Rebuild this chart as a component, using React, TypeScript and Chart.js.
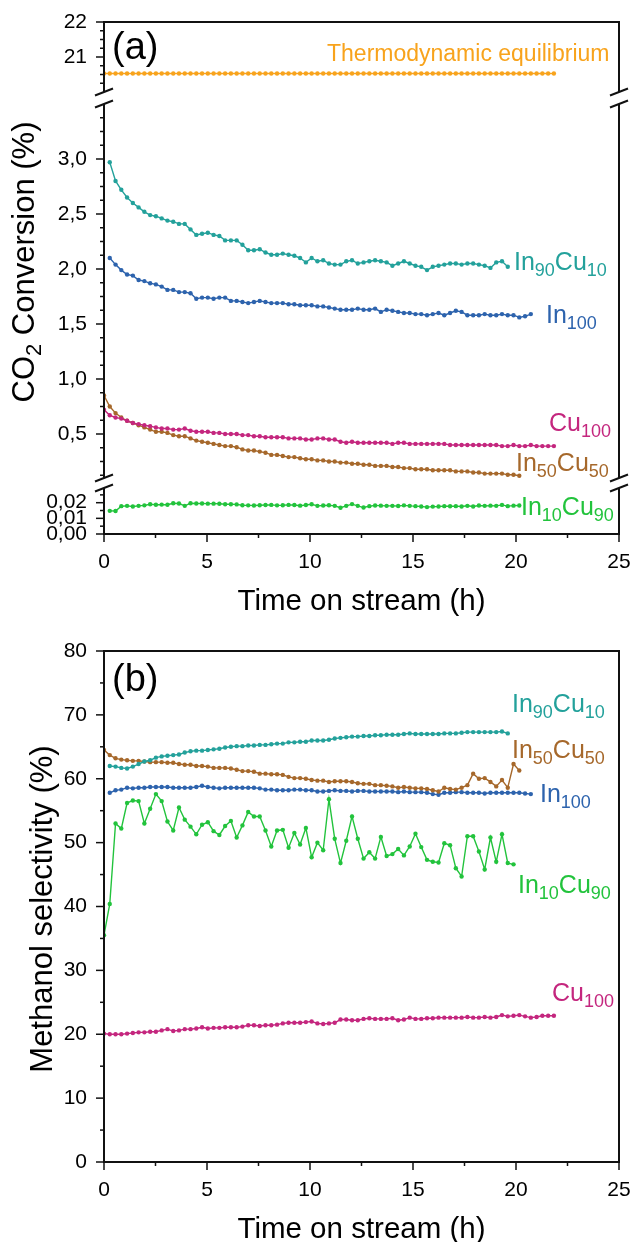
import { useEffect, useRef } from "react";
import { Chart, registerables } from "chart.js";

Chart.register(...registerables);

const FONT = "'Liberation Sans', Arial, sans-serif";
Chart.defaults.font.family = FONT;
Chart.defaults.color = "#000";

const TEAL = "#23a19b";
const BLUE = "#2d63ad";
const MAGENTA = "#c4267e";
const BROWN = "#a6682b";
const GREEN = "#22c33c";
const ORANGE = "#f8a31c";
const INK = "#111";

// time on stream (h), sampling grid shared by all runs
const hours = [
  0, 0.28, 0.56, 0.84, 1.12, 1.4, 1.68, 1.96, 2.24, 2.52,
  2.8, 3.08, 3.36, 3.64, 3.92, 4.2, 4.48, 4.76, 5.04, 5.32,
  5.6, 5.88, 6.16, 6.44, 6.72, 7, 7.28, 7.56, 7.84, 8.12,
  8.4, 8.68, 8.96, 9.24, 9.52, 9.8, 10.08, 10.36, 10.64, 10.92,
  11.2, 11.48, 11.76, 12.04, 12.32, 12.6, 12.88, 13.16, 13.44, 13.72,
  14, 14.28, 14.56, 14.84, 15.12, 15.4, 15.68, 15.96, 16.24, 16.52,
  16.8, 17.08, 17.36, 17.64, 17.92, 18.2, 18.48, 18.76, 19.04, 19.32,
  19.6, 19.88, 20.16, 20.44, 20.72, 21, 21.28, 21.56, 21.84,
];

// (a) CO2 conversion (%)
const convIn90Cu10 = [
  null, 2.97, 2.8, 2.72, 2.65, 2.6, 2.56, 2.52, 2.49, 2.48, 2.46,
  2.44, 2.43, 2.41, 2.41, 2.36, 2.31, 2.32, 2.33, 2.31, 2.3,
  2.26, 2.26, 2.26, 2.22, 2.17, 2.17, 2.18, 2.15, 2.13, 2.13,
  2.14, 2.13, 2.12, 2.1, 2.06, 2.1, 2.07, 2.08, 2.05, 2.04,
  2.04, 2.07, 2.08, 2.05, 2.06, 2.07, 2.08, 2.07, 2.06, 2.03,
  2.05, 2.07, 2.05, 2.03, 2.02, 1.99, 2.02, 2.03, 2.04, 2.05,
  2.05, 2.04, 2.05, 2.05, 2.04, 2.03, 2.01, 2.06, 2.07, 2.02,
];
const convIn100 = [
  null, 2.1, 2.04, 1.99, 1.95, 1.94, 1.9, 1.89, 1.87, 1.86, 1.84,
  1.81, 1.81, 1.79, 1.79, 1.78, 1.73, 1.74, 1.74, 1.73, 1.74,
  1.74, 1.71, 1.71, 1.7, 1.69, 1.7, 1.71, 1.7, 1.69, 1.69,
  1.69, 1.68, 1.68, 1.67, 1.67, 1.67, 1.66, 1.66, 1.65, 1.64,
  1.63, 1.63, 1.63, 1.64, 1.63, 1.63, 1.64, 1.61, 1.63, 1.62,
  1.61, 1.6, 1.6, 1.59, 1.59, 1.58, 1.59, 1.6, 1.58, 1.6,
  1.62, 1.61, 1.58, 1.58, 1.58, 1.59, 1.58, 1.58, 1.59, 1.58,
  1.58, 1.56, 1.57, 1.59,
];
const convCu100 = [
  0.72, 0.67, 0.65, 0.64, 0.62, 0.6, 0.59, 0.58, 0.57, 0.56,
  0.55, 0.55, 0.54, 0.54, 0.55, 0.53, 0.52, 0.52, 0.52, 0.51,
  0.51, 0.5, 0.5, 0.5, 0.49, 0.49, 0.48, 0.48, 0.47, 0.47,
  0.47, 0.47, 0.46, 0.46, 0.46, 0.45, 0.45, 0.46, 0.46, 0.45,
  0.45, 0.43, 0.42, 0.43, 0.42, 0.42, 0.42, 0.42, 0.42, 0.42,
  0.41, 0.42, 0.42, 0.41, 0.41, 0.41, 0.41, 0.41, 0.41, 0.41,
  0.4, 0.4, 0.4, 0.4, 0.4, 0.4, 0.4, 0.4, 0.4, 0.39,
  0.39, 0.4, 0.39, 0.39, 0.4, 0.39, 0.39, 0.39, 0.39,
];
const convIn50Cu50 = [
  0.85, 0.75, 0.69, 0.65, 0.62, 0.6, 0.58, 0.56, 0.54, 0.52,
  0.52, 0.51, 0.49, 0.48, 0.48, 0.46, 0.44, 0.43, 0.42, 0.41,
  0.4, 0.39, 0.39, 0.38, 0.36, 0.35, 0.35, 0.34, 0.33, 0.31,
  0.31, 0.3, 0.29, 0.29, 0.28, 0.27, 0.27, 0.26, 0.26, 0.25,
  0.25, 0.24, 0.24, 0.23, 0.23, 0.22, 0.22, 0.21, 0.21, 0.21,
  0.2, 0.2, 0.19, 0.19, 0.18, 0.18, 0.18, 0.17, 0.17, 0.17,
  0.17, 0.16, 0.16, 0.16, 0.15, 0.15, 0.14, 0.14, 0.14, 0.14,
  0.13, 0.13, 0.12,
];
const convIn10Cu90 = [
  null, 0.0148, 0.0147, 0.0178, 0.018, 0.0176, 0.018, 0.0183, 0.019, 0.0187, 0.0188,
  0.0187, 0.0196, 0.0195, 0.018, 0.0196, 0.0195, 0.0195, 0.0194, 0.0194, 0.0193,
  0.019, 0.019, 0.0189, 0.0184, 0.0183, 0.0182, 0.0184, 0.0185, 0.0186, 0.0183,
  0.0184, 0.0186, 0.0185, 0.0181, 0.0185, 0.019, 0.018, 0.0182, 0.0184, 0.018,
  0.0168, 0.018, 0.0191, 0.018, 0.0169, 0.0178, 0.0182, 0.0181, 0.018, 0.018,
  0.0179, 0.0183, 0.018, 0.0178, 0.0176, 0.0172, 0.0175, 0.0176, 0.0178, 0.0177,
  0.0178, 0.0176, 0.018, 0.0176, 0.0182, 0.018, 0.0181, 0.018, 0.0186, 0.0178,
  0.0181, 0.0182,
];
const convEquilibrium = [
  20.53, 20.53, 20.53, 20.53, 20.53, 20.53, 20.53, 20.53, 20.53, 20.53,
  20.53, 20.53, 20.53, 20.53, 20.53, 20.53, 20.53, 20.53, 20.53, 20.53,
  20.53, 20.53, 20.53, 20.53, 20.53, 20.53, 20.53, 20.53, 20.53, 20.53,
  20.53, 20.53, 20.53, 20.53, 20.53, 20.53, 20.53, 20.53, 20.53, 20.53,
  20.53, 20.53, 20.53, 20.53, 20.53, 20.53, 20.53, 20.53, 20.53, 20.53,
  20.53, 20.53, 20.53, 20.53, 20.53, 20.53, 20.53, 20.53, 20.53, 20.53,
  20.53, 20.53, 20.53, 20.53, 20.53, 20.53, 20.53, 20.53, 20.53, 20.53,
  20.53, 20.53, 20.53, 20.53, 20.53, 20.53, 20.53, 20.53, 20.53,
];

// (b) methanol selectivity (%)
const selIn90Cu10 = [
  null, 62.0, 61.9, 61.7, 61.6, 61.9, 62.3, 62.7, 62.9, 63.3, 63.5,
  63.6, 63.7, 63.8, 64.1, 64.3, 64.4, 64.4, 64.5, 64.6, 64.7,
  64.9, 65.0, 65.1, 65.1, 65.2, 65.2, 65.3, 65.3, 65.4, 65.5,
  65.5, 65.7, 65.7, 65.8, 65.8, 66.0, 66.0, 66.0, 66.1, 66.3,
  66.4, 66.5, 66.6, 66.6, 66.7, 66.7, 66.8, 66.8, 66.9, 66.9,
  66.9, 67.0, 67.1, 67.0, 67.0, 67.0, 67.0, 67.0, 67.1, 67.1,
  67.1, 67.2, 67.3, 67.3, 67.3, 67.3, 67.3, 67.3, 67.4, 67.1,
];
const selIn50Cu50 = [
  64.5, 63.7, 63.2, 63.0, 62.9, 62.8, 62.8, 62.7, 62.6, 62.6,
  62.6, 62.5, 62.5, 62.3, 62.2, 62.2, 62.0, 62.0, 61.9, 61.7,
  61.7, 61.7, 61.6, 61.4, 61.2, 61.2, 61.1, 60.8, 60.8, 60.7,
  60.7, 60.6, 60.3, 60.1, 60.1, 60.0, 59.8, 59.7, 59.7, 59.5,
  59.6, 59.6, 59.6, 59.5, 59.3, 59.2, 59.2, 59.0, 59.0, 58.9,
  58.8, 58.6, 58.7, 58.6, 58.5, 58.5, 58.4, 58.2, 58.0, 58.6,
  58.4, 58.3, 58.6, 59.0, 60.8, 60.0, 60.1, 59.5, 58.8, 59.8,
  58.6, 62.3, 61.3,
];
const selIn100 = [
  null, 57.8, 58.2, 58.3, 58.6, 58.5, 58.6, 58.6, 58.7, 58.7, 58.7,
  58.7, 58.6, 58.6, 58.6, 58.6, 58.7, 58.9, 58.7, 58.6, 58.5,
  58.6, 58.6, 58.6, 58.6, 58.6, 58.6, 58.5, 58.3, 58.3, 58.2,
  58.2, 58.2, 58.3, 58.3, 58.2, 58.2, 58.0, 58.0, 58.1, 58.2,
  58.1, 58.1, 58.0, 58.1, 58.1, 58.0, 58.0, 58.0, 58.0, 58.0,
  57.9, 58.0, 57.9, 57.9, 57.9, 57.8, 57.6, 57.5, 57.8, 57.8,
  57.9, 57.9, 57.8, 57.8, 57.8, 57.7, 57.8, 57.8, 57.8, 57.8,
  57.8, 57.8, 57.7, 57.6,
];
const selIn10Cu90 = [
  35.5, 40.4, 53.0, 52.2, 56.2, 56.6, 56.5, 53.0, 55.3, 57.6,
  56.5, 53.3, 51.9, 55.5, 53.6, 52.5, 51.3, 52.8, 53.2, 51.8,
  51.2, 52.6, 53.4, 50.8, 52.7, 54.8, 54.1, 54.1, 51.9, 49.4,
  51.9, 52.0, 49.2, 51.5, 49.7, 52.3, 47.7, 50.0, 48.8, 56.8,
  50.6, 46.8, 50.3, 54.1, 50.6, 47.5, 48.5, 47.5, 50.9, 47.9,
  48.2, 49.0, 48.0, 49.4, 51.4, 49.3, 47.3, 47.0, 46.9, 49.9,
  49.6, 46.0, 44.7, 51.0, 51.0, 48.6, 45.8, 50.8, 47.0, 51.3,
  46.8, 46.6,
];
const selCu100 = [
  20.1, 20.0, 20.0, 20.0, 20.1, 20.2, 20.3, 20.3, 20.4, 20.4,
  20.6, 20.8, 20.5, 20.6, 20.8, 20.8, 20.9, 21.1, 20.9, 21.0,
  21.0, 21.1, 21.1, 21.1, 21.2, 21.4, 21.4, 21.3, 21.4, 21.4,
  21.5, 21.7, 21.8, 21.8, 21.8, 21.9, 22.0, 21.7, 21.6, 21.7,
  21.8, 22.3, 22.3, 22.2, 22.2, 22.4, 22.5, 22.4, 22.4, 22.4,
  22.5, 22.2, 22.3, 22.6, 22.4, 22.4, 22.5, 22.5, 22.6, 22.6,
  22.6, 22.6, 22.6, 22.7, 22.6, 22.6, 22.7, 22.6, 22.7, 23.0,
  22.8, 22.9, 23.0, 22.8, 22.6, 22.7, 22.9, 22.9, 22.9,
];

// tick labels
const timeTicks = [0, 5, 10, 15, 20, 25];
const convTopTicks = [21, 22];
const convMidTicks = [0.5, 1, 1.5, 2, 2.5, 3];
const convLowTicks = [0, 0.01, 0.02];
const selTicks = [0, 10, 20, 30, 40, 50, 60, 70, 80];

const comma = (v: number, d: number) => v.toFixed(d).replace(".", ",");

type Val = number | null;

function toPoints(values: Val[]) {
  const pts: { x: number; y: number }[] = [];
  values.forEach((v, i) => {
    if (v !== null) pts.push({ x: hours[i], y: v });
  });
  return pts;
}

function series(label: string, values: Val[], color: string, yAxisID: string) {
  return {
    label,
    data: toPoints(values),
    yAxisID,
    borderColor: color,
    backgroundColor: color,
    borderWidth: 1.4,
    pointRadius: 2.2,
    pointHoverRadius: 2.2,
    pointBorderWidth: 0,
    pointBackgroundColor: color,
  };
}

function drawRich(ctx: CanvasRenderingContext2D, parts: string[], x: number, y: number, size: number, color: string, align = "left") {
  const sub = Math.round(size * 0.72);
  const fonts = parts.map((_, i) => `${i % 2 ? sub : size}px ${FONT}`);
  const widths = parts.map((p, i) => {
    ctx.font = fonts[i];
    return ctx.measureText(p).width;
  });
  const total = widths.reduce((a, b) => a + b, 0);
  let cx = align === "center" ? x - total / 2 : x;
  ctx.fillStyle = color;
  ctx.textAlign = "left";
  ctx.textBaseline = "alphabetic";
  parts.forEach((p, i) => {
    ctx.font = fonts[i];
    ctx.fillText(p, cx, y + (i % 2 ? size * 0.24 : 0));
    cx += widths[i];
  });
}

interface Segment {
  id: string;
  lo: number;
  hi: number;
  major: number[];
  minorStep: number;
  breakAbove?: boolean;
  breakBelow?: boolean;
}

interface Label {
  parts: string[];
  x: number;
  y: number;
  size: number;
  color: string;
}

interface Decor {
  segments: Segment[];
  texts: Label[];
  yTitle: { parts: string[]; x: number; y: number };
  xTitle: { text: string; y: number };
}

function decorations(d: Decor) {
  return {
    id: "decorations",
    afterDraw(chart: any) {
      const ctx: CanvasRenderingContext2D = chart.ctx;
      const a = chart.chartArea;
      const xs = chart.scales.x;
      const line = (x1: number, y1: number, x2: number, y2: number) => {
        ctx.beginPath();
        ctx.moveTo(x1, y1);
        ctx.lineTo(x2, y2);
        ctx.stroke();
      };
      const slash = (x: number, y: number) => {
        ctx.save();
        ctx.lineWidth = 2;
        line(x - 9, y + 3.5, x + 9, y - 3.5);
        ctx.restore();
      };
      ctx.save();
      ctx.strokeStyle = INK;
      ctx.lineCap = "butt";

      // frame: top and bottom
      ctx.lineWidth = 2;
      line(a.left - 1, a.top, a.right + 1, a.top);
      line(a.left - 1, a.bottom, a.right + 1, a.bottom);

      // time axis ticks
      ctx.lineWidth = 1.5;
      for (let k = 0; k <= 10; k++) {
        const v = k * 2.5;
        const px = xs.getPixelForValue(v);
        line(px, a.bottom, px, a.bottom + (timeTicks.includes(v) ? 8 : 4));
      }

      // y segments, ticks and break marks
      d.segments.forEach((s) => {
        const sc = chart.scales[s.id];
        const yHi = sc.getPixelForValue(s.hi);
        const yLo = sc.getPixelForValue(s.lo);
        ctx.lineWidth = 2;
        line(a.left, yHi, a.left, yLo);
        line(a.right, yHi, a.right, yLo);
        ctx.lineWidth = 1.5;
        const k0 = Math.ceil(s.lo / s.minorStep - 1e-6);
        const k1 = Math.floor(s.hi / s.minorStep + 1e-6);
        for (let k = k0; k <= k1; k++) {
          const v = k * s.minorStep;
          if (s.breakBelow && Math.abs(v - s.lo) < 1e-9) continue;
          if (s.breakAbove && Math.abs(v - s.hi) < 1e-9) continue;
          const isMajor = s.major.some((m) => Math.abs(m - v) < 1e-9);
          const py = sc.getPixelForValue(v);
          line(a.left - (isMajor ? 8 : 4), py, a.left, py);
        }
        if (s.breakAbove) {
          slash(a.left, yHi);
          slash(a.right, yHi);
        }
        if (s.breakBelow) {
          slash(a.left, yLo);
          slash(a.right, yLo);
        }
      });

      // annotations
      d.texts.forEach((t) => drawRich(ctx, t.parts, t.x, t.y, t.size, t.color));

      // axis titles
      drawRich(ctx, [d.xTitle.text], (a.left + a.right) / 2, d.xTitle.y, 29.5, "#000", "center");
      ctx.save();
      ctx.translate(d.yTitle.x, d.yTitle.y);
      ctx.rotate(-Math.PI / 2);
      drawRich(ctx, d.yTitle.parts, 0, 0, 31, "#000", "center");
      ctx.restore();

      ctx.restore();
    },
  };
}

const tickFont = { size: 21 };

function timeAxis(height: number) {
  return {
    type: "linear",
    min: 0,
    max: 25,
    grid: { display: false, drawTicks: false },
    border: { display: false },
    ticks: { padding: 16, autoSkip: false, maxRotation: 0, font: tickFont, color: "#000" },
    afterBuildTicks: (s: any) => {
      s.ticks = timeTicks.map((v) => ({ value: v }));
    },
    afterFit: (s: any) => {
      s.height = height;
      s.paddingLeft = 0;
      s.paddingRight = 0;
    },
  };
}

function valueAxis(min: number, max: number, ticks: number[], fmt: (v: number) => string, extra: object = {}) {
  return {
    type: "linear",
    position: "left",
    min,
    max,
    grid: { display: false, drawTicks: false },
    border: { display: false },
    ticks: { padding: 17, autoSkip: false, font: tickFont, color: "#000", callback: (v: any) => fmt(Number(v)) },
    afterBuildTicks: (s: any) => {
      s.ticks = ticks.map((v) => ({ value: v }));
    },
    afterFit: (s: any) => {
      s.width = 104;
      s.paddingTop = 0;
      s.paddingBottom = 0;
    },
    ...extra,
  };
}

function buildConversion() {
  // stacked y segments: 20-22 (top), 0.1-3.5 (middle), 0-0.03 (bottom); ranges include the break gaps
  const decor = decorations({
    segments: [
      { id: "yTop", lo: 20, hi: 22, major: convTopTicks, minorStep: 0.25, breakBelow: true },
      { id: "yMid", lo: 0.1, hi: 3.5, major: convMidTicks, minorStep: 0.125, breakAbove: true, breakBelow: true },
      { id: "yLow", lo: 0, hi: 0.0294, major: convLowTicks, minorStep: 0.005, breakAbove: true },
    ],
    texts: [
      { parts: ["(a)"], x: 112, y: 59, size: 38, color: "#000" },
      { parts: ["Thermodynamic equilibrium"], x: 327, y: 61, size: 23, color: ORANGE },
      { parts: ["In", "90", "Cu", "10"], x: 514, y: 270, size: 25, color: TEAL },
      { parts: ["In", "100"], x: 546, y: 323, size: 25, color: BLUE },
      { parts: ["Cu", "100"], x: 549, y: 431, size: 25, color: MAGENTA },
      { parts: ["In", "50", "Cu", "50"], x: 516, y: 471, size: 25, color: BROWN },
      { parts: ["In", "10", "Cu", "90"], x: 521, y: 515, size: 25, color: GREEN },
    ],
    yTitle: { parts: ["CO", "2", " Conversion (%)"], x: 34, y: 262 },
    xTitle: { text: "Time on stream (h)", y: 610 },
  });
  return {
    type: "line",
    data: {
      datasets: [
        series("Thermodynamic equilibrium", convEquilibrium, ORANGE, "yTop"),
        series("In90Cu10", convIn90Cu10, TEAL, "yMid"),
        series("In100", convIn100, BLUE, "yMid"),
        series("Cu100", convCu100, MAGENTA, "yMid"),
        series("In50Cu50", convIn50Cu50, BROWN, "yMid"),
        series("In10Cu90", convIn10Cu90, GREEN, "yLow"),
      ],
    },
    options: {
      animation: false,
      responsive: false,
      events: [],
      layout: { padding: { left: 0, right: 11, top: 22, bottom: 0 } },
      plugins: { legend: { display: false }, tooltip: { enabled: false } },
      scales: {
        x: timeAxis(87),
        yLow: valueAxis(0, 0.03578, convLowTicks, (v) => comma(v, 2), { stack: "conv", stackWeight: 56, weight: 1 }),
        yMid: valueAxis(0.1, 3.5, convMidTicks, (v) => comma(v, 1), { stack: "conv", stackWeight: 374, weight: 2 }),
        yTop: valueAxis(19.657, 22, convTopTicks, (v) => String(v), { stack: "conv", stackWeight: 82, weight: 3 }),
      },
    },
    plugins: [decor],
  };
}

function buildSelectivity() {
  const decor = decorations({
    segments: [{ id: "y", lo: 0, hi: 80, major: selTicks, minorStep: 5 }],
    texts: [
      { parts: ["(b)"], x: 112, y: 70, size: 38, color: "#000" },
      { parts: ["In", "90", "Cu", "10"], x: 512, y: 91, size: 25, color: TEAL },
      { parts: ["In", "50", "Cu", "50"], x: 512, y: 137, size: 25, color: BROWN },
      { parts: ["In", "100"], x: 540, y: 181, size: 25, color: BLUE },
      { parts: ["In", "10", "Cu", "90"], x: 518, y: 272, size: 25, color: GREEN },
      { parts: ["Cu", "100"], x: 552, y: 380, size: 25, color: MAGENTA },
    ],
    yTitle: { parts: ["Methanol selectivity (%)"], x: 52, y: 288 },
    xTitle: { text: "Time on stream (h)", y: 617 },
  });
  return {
    type: "line",
    data: {
      datasets: [
        series("In90Cu10", selIn90Cu10, TEAL, "y"),
        series("In50Cu50", selIn50Cu50, BROWN, "y"),
        series("In100", selIn100, BLUE, "y"),
        series("In10Cu90", selIn10Cu90, GREEN, "y"),
        series("Cu100", selCu100, MAGENTA, "y"),
      ],
    },
    options: {
      animation: false,
      responsive: false,
      events: [],
      layout: { padding: { left: 0, right: 11, top: 30, bottom: 0 } },
      plugins: { legend: { display: false }, tooltip: { enabled: false } },
      scales: {
        x: timeAxis(80),
        y: valueAxis(0, 80, selTicks, (v) => String(v)),
      },
    },
    plugins: [decor],
  };
}

function ChartCanvas({ build, height }: { build: () => any; height: number }) {
  const ref = useRef<HTMLCanvasElement>(null);

  useEffect(() => {
    if (!ref.current) return;
    const chart = new Chart(ref.current, build());
    return () => {
      chart.destroy();
    };
  }, [build]);

  return <canvas ref={ref} width={630} height={height} style={{ display: "block", width: 630, height }} />;
}

export default function App() {
  return (
    <div style={{ position: "absolute", left: 0, top: 0, width: 630, height: 1242, background: "#fff" }}>
      <ChartCanvas build={buildConversion} height={621} />
      <ChartCanvas build={buildSelectivity} height={621} />
    </div>
  );
}
